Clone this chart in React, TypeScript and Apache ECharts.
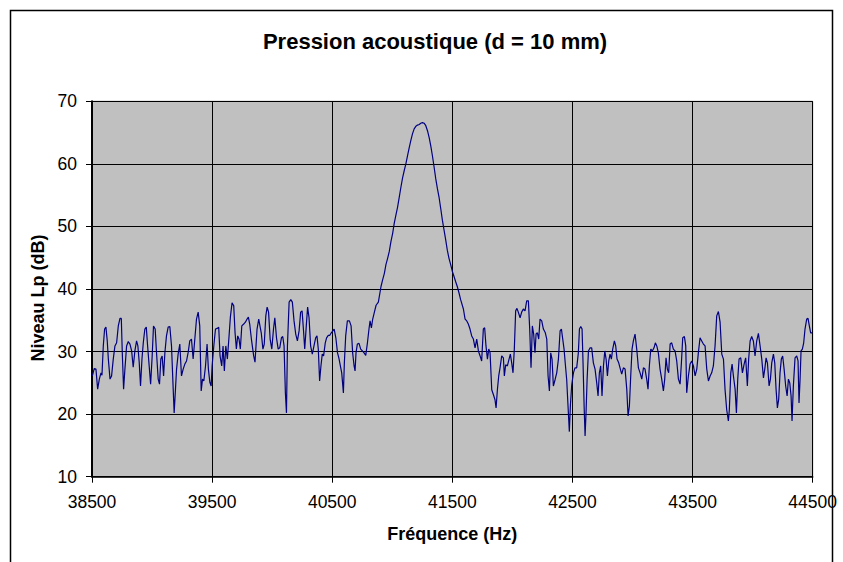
import React, { useEffect, useRef } from "react";
import * as echarts from "echarts";

const TITLE = "Pression acoustique (d = 10 mm)";
const X_NAME = "Fréquence (Hz)";
const Y_NAME = "Niveau Lp (dB)";
const X_MIN = 38500;
const X_MAX = 44500;
const X_STEP = 1000;
const Y_MIN = 10;
const Y_MAX = 70;
const Y_STEP = 10;

// Frequencies (Hz)
const freqHz: number[] = [
  38503, 38519, 38533, 38547, 38561, 38575, 38583, 38594, 38605, 38616, 38627, 38636, 38650, 38663, 38677, 38691,
  38705, 38719, 38733, 38744, 38752, 38763, 38774, 38788, 38802, 38816, 38830, 38843, 38857, 38871, 38882, 38893,
  38904, 38916, 38927, 38940, 38952, 38963, 38976, 38988, 39001, 39012, 39026, 39037, 39051, 39062, 39073, 39084,
  39096, 39107, 39120, 39134, 39148, 39162, 39176, 39184, 39195, 39204, 39217, 39231, 39245, 39259, 39273, 39287,
  39301, 39314, 39328, 39342, 39356, 39370, 39384, 39397, 39409, 39420, 39431, 39445, 39458, 39469, 39481, 39492,
  39500, 39514, 39528, 39542, 39555, 39566, 39580, 39591, 39602, 39614, 39627, 39641, 39652, 39666, 39680, 39691,
  39702, 39713, 39724, 39735, 39747, 39763, 39777, 39791, 39802, 39813, 39827, 39846, 39857, 39874, 39888,
  39909, 39923, 39934, 39947, 39958, 39970, 39983, 39997, 40011, 40022, 40036, 40050, 40063, 40077, 40088, 40099,
  40110, 40119, 40127, 40141, 40155, 40168, 40182, 40196, 40210, 40224, 40237, 40249, 40260, 40271, 40284, 40295,
  40307, 40320, 40334, 40348, 40362, 40373, 40384, 40395, 40406, 40417, 40428, 40442, 40453, 40467, 40480, 40492,
  40505, 40516, 40530, 40544, 40555,
  40579, 40593, 40601, 40612, 40626, 40643, 40657, 40670, 40682, 40690, 40698, 40709, 40723, 40737, 40751, 40765,
  40779, 40793, 40806, 40815, 40826, 40837, 40851, 40865, 40884,
  40906, 40920, 40934, 40947, 40961, 40975, 40989, 41003, 41016, 41030, 41044, 41058, 41072, 41086, 41099, 41113,
  41127, 41141, 41155, 41168, 41182, 41196, 41210, 41224, 41237, 41251, 41265, 41279, 41293, 41307, 41320, 41334,
  41348, 41362, 41376, 41389, 41403, 41417, 41431, 41445, 41458, 41472, 41486, 41500, 41514, 41527, 41541, 41555,
  41569,
  41592, 41606, 41620, 41633, 41647, 41661, 41675, 41689, 41703, 41717, 41731, 41744, 41758, 41769, 41780, 41792,
  41803, 41814, 41828, 41842, 41855, 41864, 41875, 41886, 41897, 41911, 41925, 41933, 41944, 41958, 41972, 41983,
  41994, 42005, 42016, 42027, 42038, 42049, 42064, 42077, 42091, 42105, 42119, 42133, 42144, 42155, 42166, 42177,
  42188, 42197, 42208, 42219, 42230, 42244, 42258, 42274, 42286, 42297, 42308, 42319, 42330, 42341, 42355, 42369,
  42383, 42397, 42408, 42419, 42430, 42441, 42452, 42463, 42474, 42483, 42494, 42508, 42521, 42535, 42549,
  42558, 42569, 42580, 42588, 42597, 42605, 42613, 42622, 42633, 42647, 42660, 42674, 42688, 42702, 42713, 42724,
  42735, 42746, 42758, 42769, 42780, 42791, 42802, 42813, 42824, 42835, 42849, 42860, 42871, 42885, 42896, 42910,
  42924, 42938, 42952, 42963, 42974, 42985, 42996, 43007, 43021, 43035, 43049, 43063, 43077, 43091, 43104, 43118,
  43129, 43140, 43152, 43165, 43179, 43190, 43202, 43215, 43229, 43243, 43257, 43268, 43279, 43290, 43301, 43313,
  43326, 43340, 43354, 43368, 43382, 43396, 43407, 43418, 43432, 43443, 43451, 43465, 43479, 43493, 43507, 43521,
  43535, 43548, 43562, 43576, 43590, 43604, 43618, 43632, 43646, 43659, 43673, 43687, 43701, 43715, 43729, 43743,
  43757, 43770, 43784, 43798, 43806, 43818, 43829, 43840, 43854, 43865, 43876, 43887, 43901, 43915, 43929, 43942,
  43956, 43967, 43979, 43992, 44006, 44020, 44034, 44048, 44062, 44076, 44090, 44101, 44112, 44123, 44137, 44148,
  44159, 44173, 44184, 44195, 44206, 44217, 44228, 44239, 44250, 44262, 44275, 44287, 44298, 44309, 44320, 44328,
  44339, 44353, 44367, 44378, 44386, 44395, 44403, 44414, 44425, 44436, 44450, 44461, 44472, 44483, 44497,
];

// Sound pressure level (dB)
const levelDb: number[] = [
  26.1, 27.3, 27.2, 24.0, 25.6, 26.6, 26.2, 30.9, 33.6, 33.9, 31.7, 28.8, 25.6, 26.1, 28.8, 30.9,
  31.4, 34.1, 35.3, 35.3, 29.9, 24.0, 27.2, 30.9, 31.6, 31.2, 30.1, 27.5, 30.1, 31.7, 30.9, 28.3,
  24.5, 28.8, 31.4, 33.6, 33.9, 30.9, 27.7, 24.8, 29.3, 34.1, 33.6, 29.9, 25.6, 24.8, 28.8, 29.3,
  26.1, 29.9, 32.5, 33.9, 34.0, 30.9, 24.0, 20.2, 24.0, 27.2, 29.6, 31.2, 26.1, 27.2, 28.0, 28.5,
  29.9, 31.7, 32.0, 28.8, 32.0, 35.2, 36.3, 34.1, 23.7, 25.6, 25.3, 27.7, 31.2, 27.2, 25.1, 24.5,
  27.7, 30.9, 33.6, 33.7, 33.9, 29.3, 27.7, 30.9, 26.9, 30.9, 28.8, 32.5, 35.5, 37.8, 37.3, 33.0,
  30.4, 32.5, 32.0, 30.4, 34.1, 34.4, 34.7, 35.2, 35.5, 34.4, 32.0, 29.3, 28.3, 33.6, 35.2,
  33.0, 30.4, 31.2, 35.7, 37.1, 36.3, 32.0, 30.4, 33.6, 35.4, 32.2, 30.4, 30.6, 32.2, 32.4, 30.9,
  23.4, 20.2, 30.9, 37.9, 38.3, 37.9, 34.9, 32.8, 31.7, 33.3, 36.3, 36.5, 33.6, 30.4, 34.1, 37.1,
  35.4, 30.9, 29.6, 30.9, 32.2, 32.5, 30.4, 25.3, 27.7, 29.6, 29.3, 31.4, 32.2, 32.6, 32.6, 33.0,
  33.3, 33.6, 32.2, 29.8, 29.0,
  26.6, 23.4, 28.2, 32.5, 34.9, 34.9, 34.1, 29.8, 27.7, 26.9, 29.8, 31.2, 31.3, 30.4, 30.1, 29.8,
  29.4, 31.4, 33.6, 34.9, 33.8, 35.2, 36.3, 37.4, 37.9,
  40.4, 41.5, 42.5, 43.9, 44.9, 46.0, 47.6, 48.9, 50.5, 51.8, 53.1, 54.7, 56.3, 57.8, 58.9, 60.0,
  61.3, 62.6, 63.8, 64.8, 65.6, 66.0, 66.2, 66.3, 66.5, 66.6, 66.5, 66.1, 65.3, 64.2, 62.9, 61.3,
  59.5, 57.6, 56.0, 54.7, 52.9, 51.0, 49.4, 47.8, 46.2, 44.9, 43.9, 42.8, 42.0, 41.2, 40.4, 39.4,
  38.3,
  36.8, 35.2, 34.9, 34.4, 33.6, 32.5, 32.0, 30.6, 32.0, 30.1, 29.3, 28.5, 33.6, 33.8, 30.9, 28.8,
  30.4, 29.8, 23.9, 23.1, 22.3, 21.0, 23.9, 26.1, 27.4, 29.3, 29.0, 26.1, 27.9, 27.7, 28.8, 29.6,
  28.2, 26.6, 30.4, 36.5, 36.9, 36.3, 35.4, 36.3, 36.8, 36.5, 38.1, 38.1, 33.6, 27.4, 34.1, 32.8,
  29.8, 32.8, 33.0, 32.0, 35.2, 34.9, 33.6, 33.0, 32.0, 26.1, 23.7, 29.8, 28.8, 24.5, 25.5, 26.6,
  28.8, 33.3, 33.6, 32.0, 30.4, 27.9, 25.5, 21.3, 17.2, 21.5, 24.7, 26.6, 27.4, 27.4, 29.8,
  33.6, 34.0, 33.6, 28.2, 21.3, 16.5, 20.2, 25.6, 30.1, 30.6, 30.6, 28.2, 27.2, 25.0, 22.9, 26.6,
  27.7, 22.9, 27.7, 30.1, 28.8, 26.1, 28.5, 29.6, 28.8, 30.4, 31.7, 30.9, 28.8, 28.2, 27.4, 26.4,
  27.4, 27.2, 24.0, 19.7, 21.3, 26.1, 30.4, 31.7, 32.8, 30.4, 27.4, 26.6, 25.6, 27.4, 27.2, 25.6,
  24.0, 27.7, 30.4, 30.1, 30.6, 31.4, 30.9, 29.8, 27.2, 25.6, 23.7, 25.6, 29.0, 27.2, 26.6, 31.2,
  31.4, 30.4, 30.1, 28.5, 25.6, 24.8, 28.2, 32.2, 32.4, 30.9, 23.4, 26.1, 28.0, 28.5, 27.7, 26.1,
  27.2, 29.8, 32.2, 31.7, 31.2, 30.9, 27.2, 25.3, 26.1, 26.6, 27.7, 30.9, 35.7, 36.4, 34.7, 29.6,
  28.8, 24.0, 20.7, 18.9, 20.7, 26.6, 28.0, 26.1, 24.0, 20.2, 25.6, 28.8, 29.0, 26.6, 28.0, 29.0,
  24.5, 28.8, 31.7, 32.4, 31.7, 29.3, 31.7, 32.9, 30.9, 28.8, 25.8, 27.2, 29.0, 28.2, 24.5, 25.6,
  28.2, 29.6, 28.2, 24.0, 21.0, 22.4, 26.6, 28.8, 29.3, 27.2, 24.5, 22.9, 25.6, 25.0, 22.9, 18.9,
  24.5, 29.0, 29.3, 28.5, 21.8, 25.6, 30.1, 30.4, 31.4, 33.6, 35.2, 35.3, 34.1, 33.0, 33.0,
];

const FONT = "'Liberation Sans', Arial, sans-serif";

export default function App() {
  const ref = useRef<HTMLDivElement>(null);

  useEffect(() => {
    if (!ref.current) return;
    const chart = echarts.init(ref.current, undefined, { renderer: "svg" });
    const n = Math.min(freqHz.length, levelDb.length);
    const data: number[][] = [];
    for (let i = 0; i < n; i++) data.push([freqHz[i], levelDb[i]]);

    chart.setOption({
      animation: false,
      backgroundColor: "#ffffff",
      title: {
        text: TITLE,
        left: 430,
        top: 25,
        textAlign: "center",
        textStyle: { fontFamily: FONT, fontWeight: "bold", fontSize: 22, color: "#000" },
      },
      grid: {
        left: 92,
        top: 101.3,
        right: 30.3,
        bottom: 85.3,
        show: true,
        backgroundColor: "#C0C0C0",
        borderColor: "#808080",
        borderWidth: 1,
      },
      xAxis: {
        type: "value",
        min: X_MIN,
        max: X_MAX,
        interval: X_STEP,
        name: X_NAME,
        nameLocation: "middle",
        nameGap: 48,
        nameTextStyle: { fontFamily: FONT, fontWeight: "bold", fontSize: 18, color: "#000" },
        axisLine: { show: true, onZero: false, lineStyle: { color: "#000", width: 1.6 } },
        axisTick: { show: true, length: 6, inside: false, lineStyle: { color: "#000", width: 1 } },
        axisLabel: {
          margin: 16,
          fontSize: 17.5,
          color: "#000",
          fontFamily: FONT,
          formatter: (v: number) => String(v),
        },
        splitLine: { show: true, lineStyle: { color: "#000", width: 1 } },
      },
      yAxis: {
        type: "value",
        min: Y_MIN,
        max: Y_MAX,
        interval: Y_STEP,
        name: Y_NAME,
        nameLocation: "middle",
        nameGap: 40,
        nameRotate: 90,
        nameTextStyle: { fontFamily: FONT, fontWeight: "bold", fontSize: 18, color: "#000", padding: [0, 18, 0, 0] },
        axisLine: { show: true, onZero: false, lineStyle: { color: "#000", width: 2 } },
        axisTick: { show: true, length: 6, inside: false, lineStyle: { color: "#000", width: 1 } },
        axisLabel: { margin: 15, fontSize: 17.5, color: "#000", fontFamily: FONT, formatter: (v: number) => String(v) },
        splitLine: { show: true, lineStyle: { color: "#000", width: 1 } },
      },
      series: [
        {
          type: "line",
          data,
          symbol: "none",
          showSymbol: false,
          silent: true,
          lineStyle: { color: "#000080", width: 1.2 },
        },
      ],
      graphic: [
        {
          type: "rect",
          silent: true,
          z: 100,
          shape: { x: 10.5, y: 10.5, width: 822, height: 700 },
          style: { fill: "none", stroke: "#000", lineWidth: 1.5 },
        },
      ],
    });

    return () => chart.dispose();
  }, []);

  return (
    <div
      ref={ref}
      style={{ position: "absolute", left: 0, top: 0, width: 843, height: 562 }}
    />
  );
}
